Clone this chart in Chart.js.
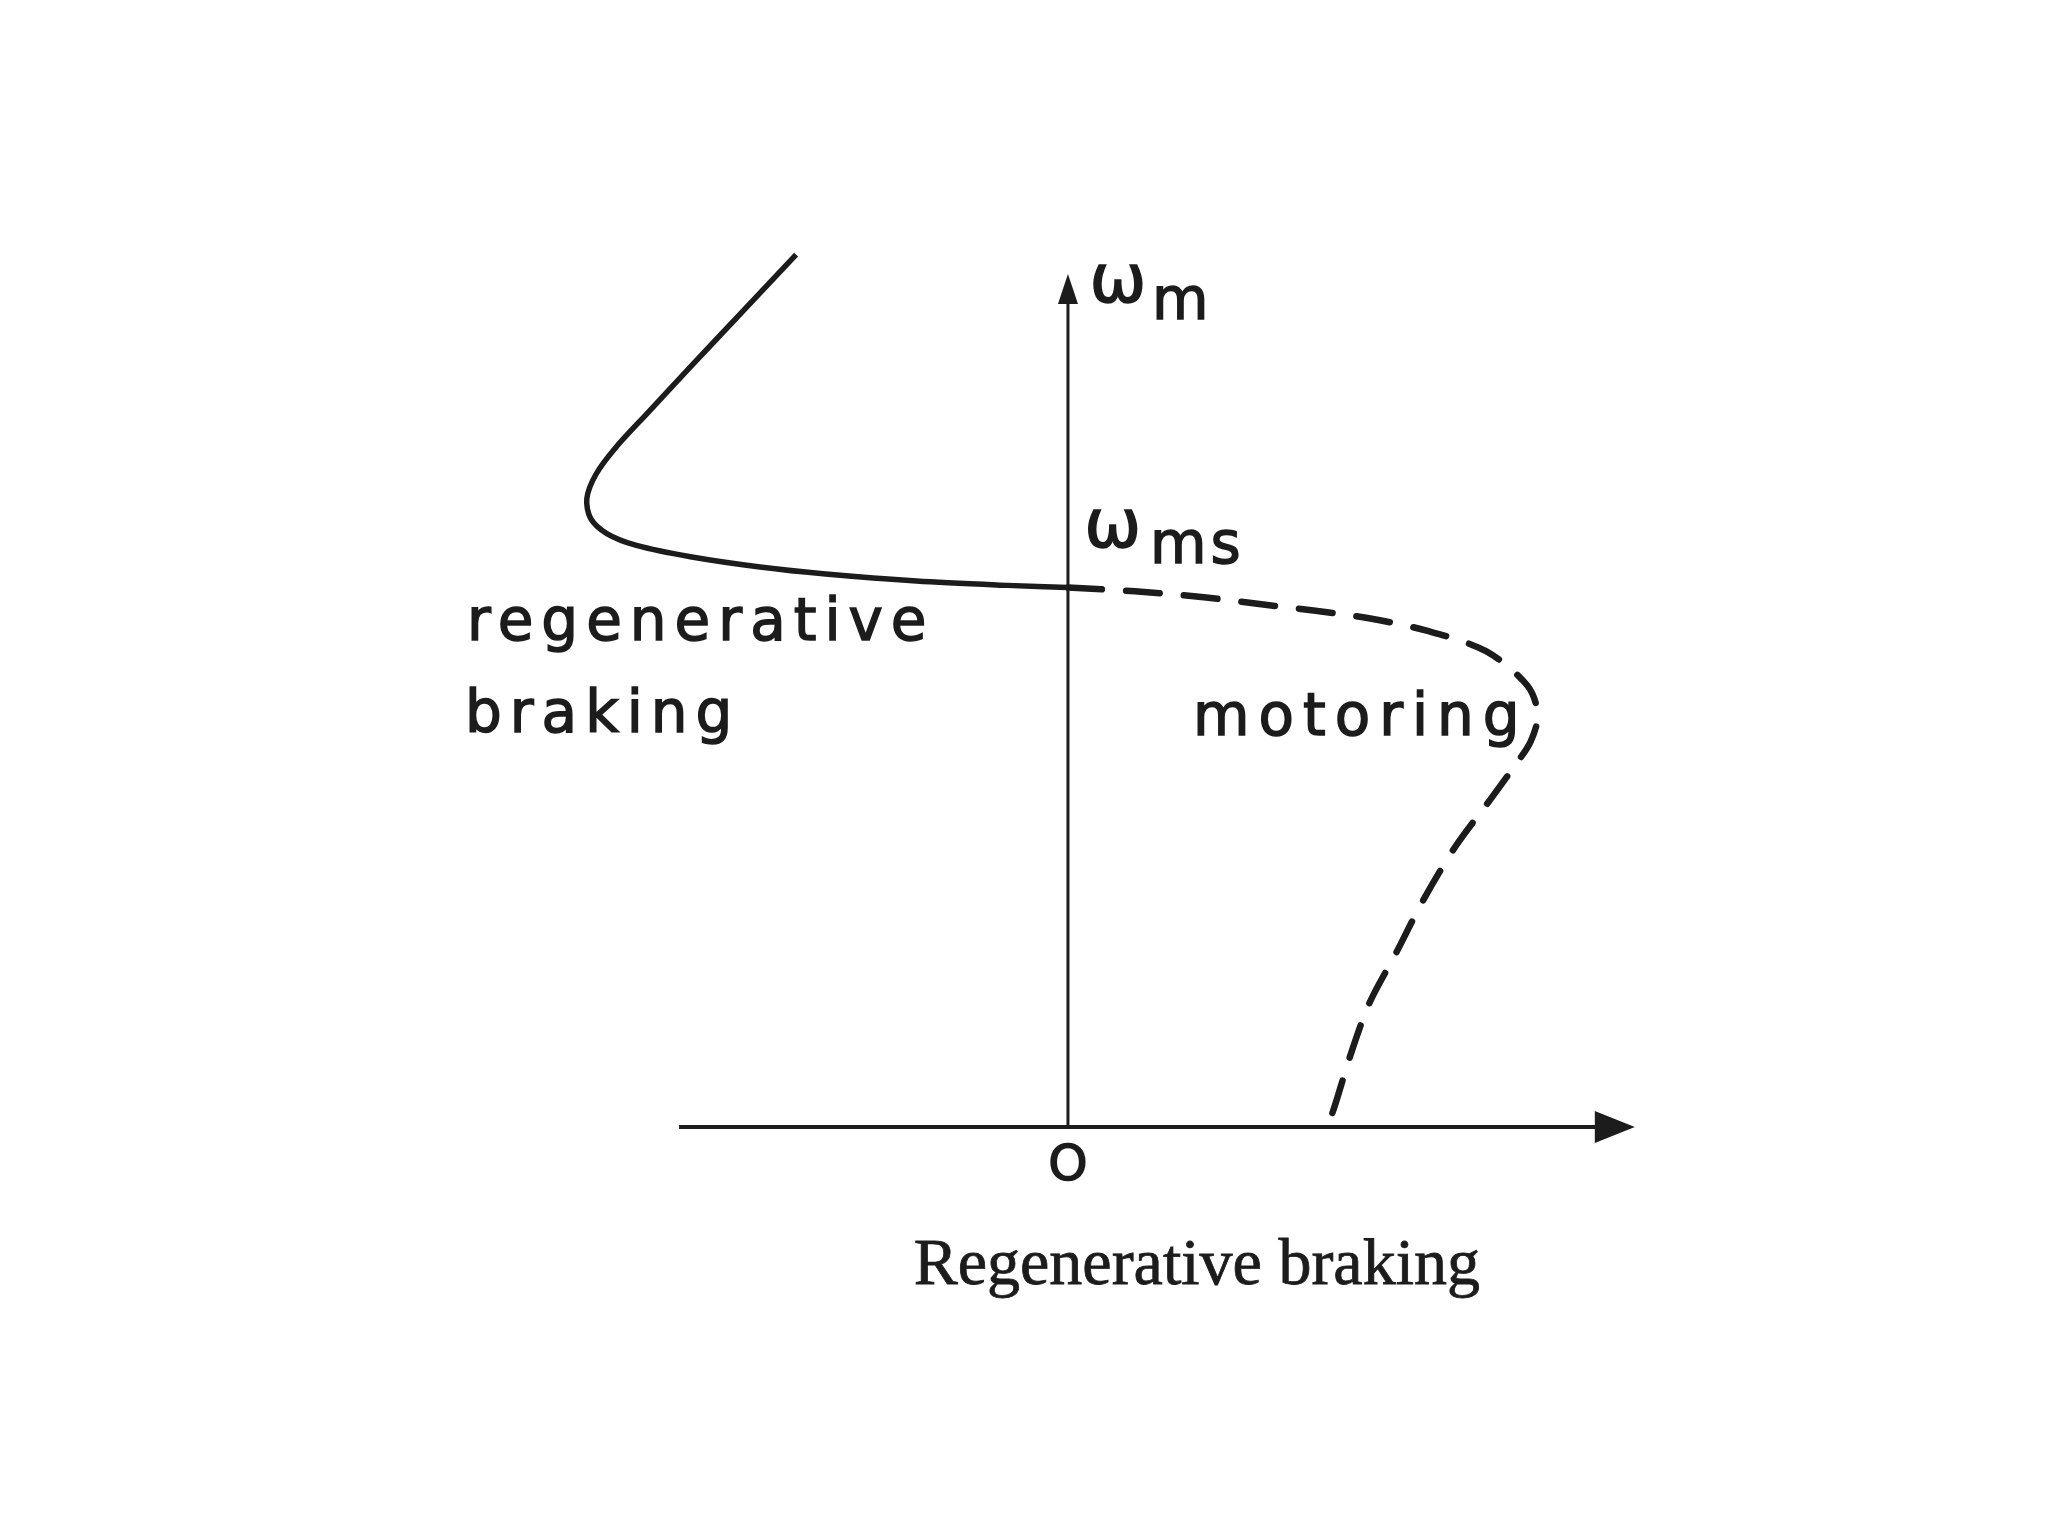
<!DOCTYPE html>
<html>
<head>
<meta charset="utf-8">
<script src="https://cdn.jsdelivr.net/npm/chart.js@4"></script>
<style>
  html, body { margin: 0; padding: 0; background: #fff; }
  #wrap { width: 2048px; height: 1536px; }
</style>
</head>
<body>
<div id="wrap"><canvas id="speedTorque" width="2048" height="1536"></canvas></div>
<script>
// Speed-torque curve of an induction machine near synchronous speed (units: wms = 1)
// regenerative braking branch (solid), torque < 0
const brakeTorque = [-0.504, -0.600, -0.700, -0.780, -0.838, -0.875, -0.892, -0.885, -0.855, -0.800, -0.700, -0.571, -0.449, -0.281, -0.113, 0];
const brakeSpeed  = [1.617, 1.515, 1.409, 1.323, 1.260, 1.210, 1.165, 1.128, 1.100, 1.078, 1.057, 1.038, 1.025, 1.012, 1.004, 1.0];

// motoring branch (dashed), torque > 0
const motorTorque = [0, 0.124, 0.252, 0.366, 0.459, 0.558, 0.665, 0.775, 0.852, 0.871, 0.858, 0.825, 0.780, 0.719, 0.659, 0.608, 0.559, 0.523, 0.492, 0.479];
const motorSpeed  = [1.0, 0.993, 0.982, 0.968, 0.957, 0.943, 0.920, 0.882, 0.818, 0.765, 0.715, 0.665, 0.603, 0.521, 0.421, 0.322, 0.230, 0.131, 0.031, 0];

// extent of the drawn axes
const torqueAxisRange = [-0.721, 1.051];
const speedAxisRange = [0, 1.581];

const toPoints = (xs, ys) => xs.map((x, i) => ({ x: x, y: ys[i] }));
const ink = '#1c1c1c';

// draws the two arrowed axes and the hand-lettered labels
const axesAndLabels = {
    id: 'axesAndLabels',
    afterDatasetsDraw(chart) {
        const { ctx, scales: { x, y } } = chart;
        const px = v => x.getPixelForValue(v);
        const py = v => y.getPixelForValue(v);

        ctx.save();
        ctx.strokeStyle = ink;
        ctx.fillStyle = ink;
        ctx.lineWidth = 4;

        // horizontal (torque) axis
        const x0 = px(torqueAxisRange[0]), x1 = px(torqueAxisRange[1]), yO = py(0);
        ctx.beginPath();
        ctx.moveTo(x0, yO);
        ctx.lineTo(x1 - 30, yO);
        ctx.stroke();
        ctx.beginPath();
        ctx.moveTo(x1, yO);
        ctx.lineTo(x1 - 40, yO - 16);
        ctx.lineTo(x1 - 40, yO + 16);
        ctx.closePath();
        ctx.fill();

        // vertical (speed) axis
        const xO = px(0), yTop = py(speedAxisRange[1]);
        ctx.lineWidth = 3;
        ctx.beginPath();
        ctx.moveTo(xO, py(speedAxisRange[0]));
        ctx.lineTo(xO, yTop + 20);
        ctx.stroke();
        ctx.beginPath();
        ctx.moveTo(xO, yTop);
        ctx.lineTo(xO - 10, yTop + 30);
        ctx.lineTo(xO + 10, yTop + 30);
        ctx.closePath();
        ctx.fill();

        // lettering (a thin outline thickens the strokes like the pen lettering)
        const sans = '58px "DejaVu Sans"';
        const put = (text, dx, dy, font, spacing, align, outline) => {
            ctx.font = font;
            ctx.letterSpacing = spacing || '0px';
            ctx.textAlign = align || 'left';
            ctx.textBaseline = 'alphabetic';
            ctx.fillText(text, px(dx), py(dy));
            if (outline) {
                ctx.lineWidth = outline;
                ctx.strokeText(text, px(dx), py(dy));
            }
        };
        put('ω', 0.040, 1.530, '68px "DejaVu Sans"', '0px', 'left', 1.5);
        put('m', 0.156, 1.497, sans, '0px', 'left', 1.5);
        put('ω', 0.030, 1.0753, '68px "DejaVu Sans"', '0px', 'left', 1.5);
        put('ms', 0.152, 1.0456, sans, '4px', 'left', 1.5);
        put('regenerative', -1.114, 0.9029, sans, '8px', 'left', 1.5);
        put('braking', -1.118, 0.7323, sans, '8px', 'left', 1.5);
        put('motoring', 0.2317, 0.7267, sans, '9px', 'left', 1.5);
        ctx.textBaseline = 'middle';
        ctx.font = '50px "DejaVu Sans"';
        ctx.letterSpacing = '0px';
        ctx.textAlign = 'center';
        ctx.lineWidth = 1.5;
        ctx.fillText('O', px(0), py(-0.074));
        ctx.strokeText('O', px(0), py(-0.074));
        put('Regenerative braking', 0.239, -0.291, '66px "Liberation Serif"', '0px', 'center', 0.8);
        ctx.restore();
    }
};

new Chart(document.getElementById('speedTorque'), {
    type: 'scatter',
    data: {
        datasets: [
            {
                label: 'regenerative braking',
                data: toPoints(brakeTorque, brakeSpeed),
                showLine: true,
                borderColor: ink,
                borderWidth: 5.5,
                tension: 0.3,
                pointRadius: 0
            },
            {
                label: 'motoring',
                data: toPoints(motorTorque, motorSpeed),
                showLine: true,
                borderColor: ink,
                borderWidth: 6.5,
                borderDash: [34, 24],
                borderCapStyle: 'round',
                tension: 0.3,
                pointRadius: 0
            }
        ]
    },
    options: {
        responsive: false,
        devicePixelRatio: 1,
        animation: false,
        layout: { padding: 0 },
        plugins: { legend: { display: false }, tooltip: { enabled: false } },
        scales: {
            x: { type: 'linear', min: -1.980, max: 1.817, display: false },
            y: { type: 'linear', min: -0.758, max: 2.089, display: false }
        }
    },
    plugins: [axesAndLabels]
});
</script>
</body>
</html>
